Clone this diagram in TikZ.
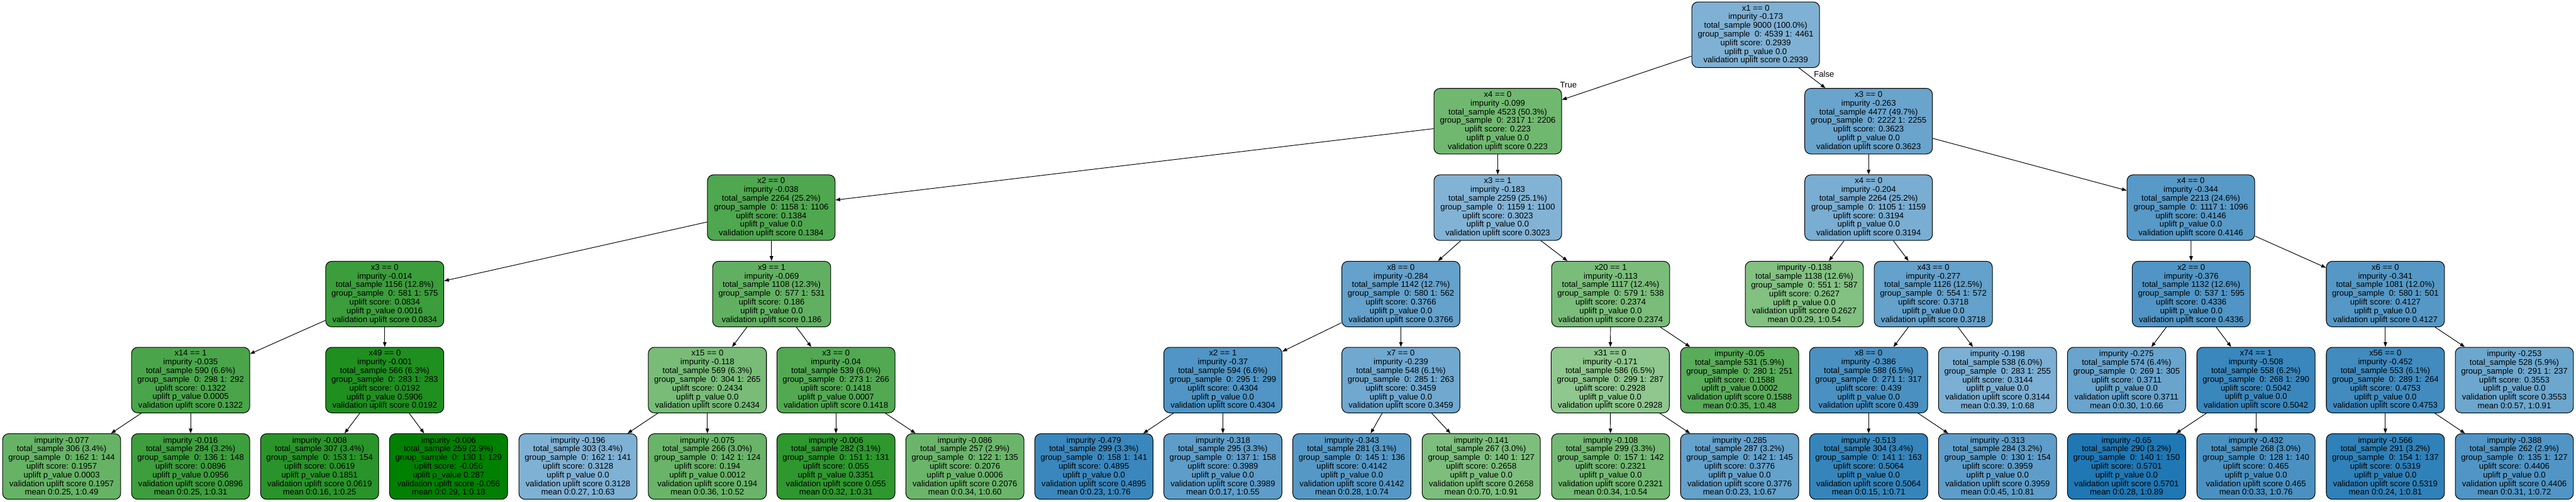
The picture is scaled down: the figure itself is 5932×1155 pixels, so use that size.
\documentclass[tikz,border=0pt]{standalone}
\usepackage{fontspec}
\setmainfont{Liberation Sans}
\usetikzlibrary{arrows.meta}
\definecolor{upblue}{HTML}{1F77B4}
\definecolor{upgreen}{HTML}{008000}
% text of an inner (split) node and of a leaf
\newcommand{\splitlines}[7]{#1\\impurity #2\\total\_sample #3\\group\_sample\ \ 0: #4 1: #5\\uplift score: #6\\uplift p\_value #7\\validation uplift score #6}
\newcommand{\leaflines}[8]{impurity #1\\total\_sample #2\\group\_sample\ \ 0: #3 1: #4\\uplift score: #5\\uplift p\_value #6\\validation uplift score #5\\mean 0:#7, 1:#8}

\begin{document}
\begin{tikzpicture}[x=1pt,y=-1pt,
    box/.style={draw=black, line width=1.5pt, rounded corners=14pt, minimum width=272pt, minimum height=151pt,
      inner sep=0pt, align=center, font=\fontsize{19}{20}\selectfont},
    wide/.style={box, minimum width=294pt},
    edge/.style={line width=1.4pt, -{Triangle[length=11pt,width=8pt]}},
    lbl/.style={inner sep=0pt, font=\fontsize{19}{20}\selectfont}]
\useasboundingbox (0,0) rectangle (5932,1155);

% level 0 and 1
\node[wide, fill=upblue!57] (l0) at (4043,80) {\splitlines{x1 == 0}{-0.173}{9000 (100.0\%)}{4539}{4461}{0.2939}{0.0}};
\node[wide, fill=upgreen!56] (l1a) at (3449,279) {\splitlines{x4 == 0}{-0.099}{4523 (50.3\%)}{2317}{2206}{0.223}{0.0}};
\node[wide, fill=upblue!67] (l1b) at (4303,279) {\splitlines{x3 == 0}{-0.263}{4477 (49.7\%)}{2222}{2255}{0.3623}{0.0}};

% level 2
\node[wide, fill=upgreen!69] (l2a) at (1776,478) {\splitlines{x2 == 0}{-0.038}{2264 (25.2\%)}{1158}{1106}{0.1384}{0.0}};
\node[wide, fill=upblue!56] (l2b) at (3449,478) {\splitlines{x3 == 1}{-0.183}{2259 (25.1\%)}{1159}{1100}{0.3023}{0.0}};
\node[wide, fill=upblue!60] (l2c) at (4303,478) {\splitlines{x4 == 0}{-0.204}{2264 (25.2\%)}{1105}{1159}{0.3194}{0.0}};
\node[wide, fill=upblue!75] (l2d) at (5045,478) {\splitlines{x4 == 0}{-0.344}{2213 (24.6\%)}{1117}{1096}{0.4146}{0.0}};

% level 3
\node[box, fill=upgreen!77] (l3a) at (886,677) {\splitlines{x3 == 0}{-0.014}{1156 (12.8\%)}{581}{575}{0.0834}{0.0016}};
\node[box, fill=upgreen!62] (l3b) at (1777,677) {\splitlines{x9 == 1}{-0.069}{1108 (12.3\%)}{577}{531}{0.186}{0.0}};
\node[box, fill=upblue!69] (l3c) at (3226,677) {\splitlines{x8 == 0}{-0.284}{1142 (12.7\%)}{580}{562}{0.3766}{0.0}};
\node[box, fill=upgreen!52] (l3d) at (3709,677) {\splitlines{x20 == 1}{-0.113}{1117 (12.4\%)}{579}{538}{0.2374}{0.0}};
\node[box, fill=upgreen!49] (l3e) at (4155,677) {\leaflines{-0.138}{1138 (12.6\%)}{551}{587}{0.2627}{0.0}{0.29}{0.54}};
\node[box, fill=upblue!69] (l3f) at (4452,677) {\splitlines{x43 == 0}{-0.277}{1126 (12.5\%)}{554}{572}{0.3718}{0.0}};
\node[box, fill=upblue!78] (l3g) at (5046,677) {\splitlines{x2 == 0}{-0.376}{1132 (12.6\%)}{537}{595}{0.4336}{0.0}};
\node[box, fill=upblue!76] (l3h) at (5493,677) {\splitlines{x6 == 0}{-0.341}{1081 (12.0\%)}{580}{501}{0.4127}{0.0}};

% level 4
\node[box, fill=upgreen!71] (l4a) at (439,875) {\splitlines{x14 == 1}{-0.035}{590 (6.6\%)}{298}{292}{0.1322}{0.0005}};
\node[box, fill=upgreen!88] (l4b) at (886,875) {\splitlines{x49 == 0}{-0.001}{566 (6.3\%)}{283}{283}{0.0192}{0.5906}};
\node[box, fill=upgreen!53] (l4c) at (1629,875) {\splitlines{x15 == 0}{-0.118}{569 (6.3\%)}{304}{265}{0.2434}{0.0}};
\node[box, fill=upgreen!68] (l4d) at (1925,875) {\splitlines{x3 == 0}{-0.04}{539 (6.0\%)}{273}{266}{0.1418}{0.0007}};
\node[box, fill=upblue!78] (l4e) at (2816,875) {\splitlines{x2 == 1}{-0.37}{594 (6.6\%)}{295}{299}{0.4304}{0.0}};
\node[box, fill=upblue!64] (l4f) at (3226,875) {\splitlines{x7 == 0}{-0.239}{548 (6.1\%)}{285}{263}{0.3459}{0.0}};
\node[box, fill=upgreen!44] (l4g) at (3708,875) {\splitlines{x31 == 0}{-0.171}{586 (6.5\%)}{299}{287}{0.2928}{0.0}};
\node[box, fill=upgreen!65] (l4h) at (4006,875) {\leaflines{-0.05}{531 (5.9\%)}{280}{251}{0.1588}{0.0002}{0.35}{0.48}};
\node[box, fill=upblue!81] (l4i) at (4303,875) {\splitlines{x8 == 0}{-0.386}{588 (6.5\%)}{271}{317}{0.439}{0.0}};
\node[box, fill=upblue!59] (l4j) at (4600,875) {\leaflines{-0.198}{538 (6.0\%)}{283}{255}{0.3144}{0.0}{0.39}{0.68}};
\node[box, fill=upblue!67] (l4k) at (4897,875) {\leaflines{-0.275}{574 (6.4\%)}{269}{305}{0.3711}{0.0}{0.30}{0.66}};
\node[box, fill=upblue!88] (l4l) at (5195,875) {\splitlines{x74 == 1}{-0.508}{558 (6.2\%)}{268}{290}{0.5042}{0.0}};
\node[box, fill=upblue!85] (l4m) at (5493,875) {\splitlines{x56 == 0}{-0.452}{553 (6.1\%)}{289}{264}{0.4753}{0.0}};
\node[box, fill=upblue!65] (l4n) at (5790,875) {\leaflines{-0.253}{528 (5.9\%)}{291}{237}{0.3553}{0.0}{0.57}{0.91}};

% level 5 (leaves)
\node[box, fill=upgreen!60] (l5a) at (142,1074) {\leaflines{-0.077}{306 (3.4\%)}{162}{144}{0.1957}{0.0003}{0.25}{0.49}};
\node[box, fill=upgreen!76] (l5b) at (439,1074) {\leaflines{-0.016}{284 (3.2\%)}{136}{148}{0.0896}{0.0956}{0.25}{0.31}};
\node[box, fill=upgreen!84] (l5c) at (736,1074) {\leaflines{-0.008}{307 (3.4\%)}{153}{154}{0.0619}{0.1851}{0.16}{0.25}};
\node[box, fill=upgreen] (l5d) at (1033,1074) {\leaflines{-0.006}{259 (2.9\%)}{130}{129}{-0.056}{0.287}{0.29}{0.18}};
\node[box, fill=upblue!57] (l5e) at (1331,1074) {\leaflines{-0.196}{303 (3.4\%)}{162}{141}{0.3128}{0.0}{0.27}{0.63}};
\node[box, fill=upgreen!59] (l5f) at (1629,1074) {\leaflines{-0.075}{266 (3.0\%)}{142}{124}{0.194}{0.0012}{0.36}{0.52}};
\node[box, fill=upgreen!82] (l5g) at (1925,1074) {\leaflines{-0.006}{282 (3.1\%)}{151}{131}{0.055}{0.3351}{0.32}{0.31}};
\node[box, fill=upgreen!58] (l5h) at (2222,1074) {\leaflines{-0.086}{257 (2.9\%)}{122}{135}{0.2076}{0.0006}{0.34}{0.60}};
\node[box, fill=upblue!88] (l5i) at (2519,1074) {\leaflines{-0.479}{299 (3.3\%)}{158}{141}{0.4895}{0.0}{0.23}{0.76}};
\node[box, fill=upblue!72] (l5j) at (2816,1074) {\leaflines{-0.318}{295 (3.3\%)}{137}{158}{0.3989}{0.0}{0.17}{0.55}};
\node[box, fill=upblue!76] (l5k) at (3113,1074) {\leaflines{-0.343}{281 (3.1\%)}{145}{136}{0.4142}{0.0}{0.28}{0.74}};
\node[box, fill=upgreen!51] (l5l) at (3411,1074) {\leaflines{-0.141}{267 (3.0\%)}{140}{127}{0.2658}{0.0}{0.70}{0.91}};
\node[box, fill=upgreen!55] (l5m) at (3709,1074) {\leaflines{-0.108}{299 (3.3\%)}{157}{142}{0.2321}{0.0}{0.34}{0.54}};
\node[box, fill=upblue!69] (l5n) at (4006,1074) {\leaflines{-0.285}{287 (3.2\%)}{142}{145}{0.3776}{0.0}{0.23}{0.67}};
\node[box, fill=upblue!90] (l5o) at (4303,1074) {\leaflines{-0.513}{304 (3.4\%)}{141}{163}{0.5064}{0.0}{0.15}{0.71}};
\node[box, fill=upblue!72] (l5p) at (4600,1074) {\leaflines{-0.313}{284 (3.2\%)}{130}{154}{0.3959}{0.0}{0.45}{0.81}};
\node[box, fill=upblue] (l5q) at (4897,1074) {\leaflines{-0.65}{290 (3.2\%)}{140}{150}{0.5701}{0.0}{0.28}{0.89}};
\node[box, fill=upblue!81] (l5r) at (5195,1074) {\leaflines{-0.432}{268 (3.0\%)}{128}{140}{0.465}{0.0}{0.33}{0.76}};
\node[box, fill=upblue!93] (l5s) at (5493,1074) {\leaflines{-0.566}{291 (3.2\%)}{154}{137}{0.5319}{0.0}{0.24}{0.81}};
\node[box, fill=upblue!78] (l5t) at (5790,1074) {\leaflines{-0.388}{262 (2.9\%)}{135}{127}{0.4406}{0.0}{0.31}{0.72}};

% edges
\draw[edge] (l0) -- node[lbl, pos=0.95, above=21pt] {True} (l1a);
\draw[edge] (l0) -- node[lbl, pos=0.31, right=15pt] {False} (l1b);
\foreach \p/\c in {l1a/l2a, l1a/l2b, l1b/l2c, l1b/l2d,
    l2a/l3a, l2a/l3b, l2b/l3c, l2b/l3d, l2c/l3e, l2c/l3f, l2d/l3g, l2d/l3h,
    l3a/l4a, l3a/l4b, l3b/l4c, l3b/l4d, l3c/l4e, l3c/l4f, l3d/l4g, l3d/l4h,
    l3f/l4i, l3f/l4j, l3g/l4k, l3g/l4l, l3h/l4m, l3h/l4n,
    l4a/l5a, l4a/l5b, l4b/l5c, l4b/l5d, l4c/l5e, l4c/l5f, l4d/l5g, l4d/l5h,
    l4e/l5i, l4e/l5j, l4f/l5k, l4f/l5l, l4g/l5m, l4g/l5n, l4i/l5o, l4i/l5p,
    l4l/l5q, l4l/l5r, l4m/l5s, l4m/l5t}
  \draw[edge] (\p) -- (\c);
\end{tikzpicture}
\end{document}
